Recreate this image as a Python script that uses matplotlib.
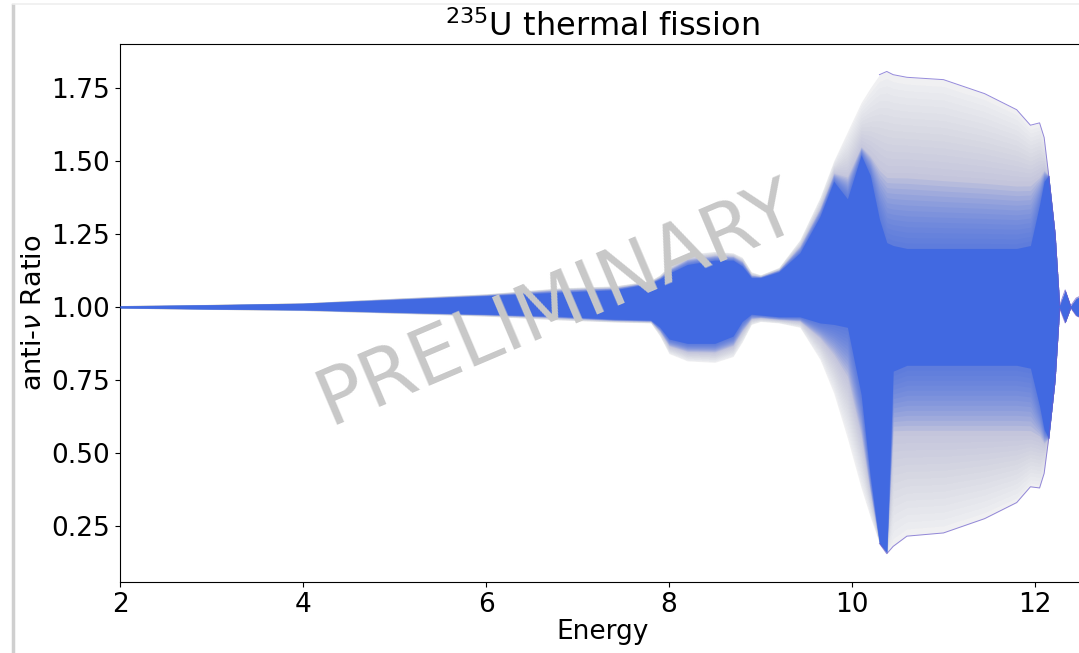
import numpy as np
import matplotlib
matplotlib.use("Agg")
import matplotlib.pyplot as plt
from matplotlib.lines import Line2D

# ---- data (energy grid + envelopes of the ratio band) ----
energy = [2.0, 3.0, 4.0, 5.0, 6.0, 6.8, 7.4, 7.8, 7.9, 8.0, 8.2, 8.5, 8.7, 8.8, 8.9,
          9.0, 9.2, 9.43, 9.65, 9.8, 9.95, 10.1, 10.2, 10.3, 10.38, 10.45, 10.6,
          11.0, 11.45, 11.8, 11.95, 12.05, 12.1, 12.15, 12.22, 12.27, 12.33, 12.39,
          12.45, 12.55]

outer_hi = [1.005, 1.009, 1.014, 1.030, 1.045, 1.065, 1.072, 1.090, 1.110, 1.140,
            1.180, 1.190, 1.185, 1.170, 1.120, 1.110, 1.135, 1.230, 1.375, 1.500,
            1.600, 1.700, 1.750, 1.795, 1.806, 1.795, 1.786, 1.778, 1.730, 1.675,
            1.622, 1.630, 1.580, 1.450, 1.250, 1.005, 1.058, 1.003, 1.030, 1.045]
outer_lo = [0.995, 0.991, 0.987, 0.978, 0.968, 0.955, 0.948, 0.945, 0.900, 0.840,
            0.815, 0.810, 0.830, 0.880, 0.940, 0.950, 0.945, 0.930, 0.820, 0.705,
            0.550, 0.380, 0.280, 0.190, 0.155, 0.180, 0.215, 0.226, 0.275, 0.330,
            0.384, 0.380, 0.430, 0.550, 0.750, 0.995, 0.945, 0.997, 0.970, 0.955]
mid_hi = [1.004, 1.008, 1.013, 1.028, 1.042, 1.060, 1.066, 1.086, 1.103, 1.130,
          1.165, 1.178, 1.175, 1.158, 1.110, 1.105, 1.128, 1.210, 1.340, 1.460,
          1.450, 1.550, 1.520, 1.480, 1.460, 1.460, 1.460, 1.450, 1.440, 1.430,
          1.430, 1.450, 1.470, 1.450, 1.250, 1.005, 1.057, 1.003, 1.030, 1.044]
mid_lo = [0.996, 0.992, 0.989, 0.980, 0.972, 0.962, 0.953, 0.950, 0.915, 0.865,
          0.845, 0.843, 0.865, 0.915, 0.958, 0.962, 0.956, 0.950, 0.890, 0.830,
          0.750, 0.550, 0.360, 0.190, 0.157, 0.560, 0.560, 0.560, 0.560, 0.560,
          0.560, 0.550, 0.530, 0.550, 0.750, 0.995, 0.946, 0.997, 0.971, 0.956]
core_hi = [1.003, 1.007, 1.012, 1.025, 1.038, 1.050, 1.058, 1.080, 1.095, 1.115,
           1.145, 1.160, 1.160, 1.140, 1.100, 1.100, 1.120, 1.185, 1.310, 1.430,
           1.370, 1.520, 1.450, 1.300, 1.220, 1.210, 1.200, 1.200, 1.200, 1.200,
           1.210, 1.350, 1.430, 1.450, 1.250, 1.005, 1.055, 1.003, 1.028, 1.042]
core_lo = [0.997, 0.993, 0.990, 0.982, 0.975, 0.968, 0.958, 0.955, 0.930, 0.890,
           0.875, 0.875, 0.900, 0.950, 0.975, 0.972, 0.966, 0.966, 0.945, 0.940,
           0.930, 0.700, 0.420, 0.190, 0.160, 0.780, 0.800, 0.800, 0.800, 0.800,
           0.790, 0.660, 0.580, 0.550, 0.750, 0.995, 0.947, 0.997, 0.972, 0.958]

xticks = [2, 4, 6, 8, 10, 12]
yticks = [0.25, 0.50, 0.75, 1.00, 1.25, 1.50, 1.75]
title = "$^{235}$U thermal fission"
xlabel = "Energy"
ylabel = r"anti-$\nu$ Ratio"
watermark = "PRELIMINARY"

# ---- figure ----
W, H = 1079, 653
fig = plt.figure(figsize=(W / 100, H / 100), dpi=100)
xmin, xmax = 2.0, 12.55
ymin, ymax = 0.058, 1.90
px_per_unit = 91.5
left = 120 / W
width = (xmax - xmin) * px_per_unit / W
bottom = (H - 582) / H
height = (582 - 44) / H
ax = fig.add_axes([left, bottom, width, height])

E = np.array(energy)
ohi, olo = np.array(outer_hi), np.array(outer_lo)
mhi, mlo = np.array(mid_hi), np.array(mid_lo)
chi, clo = np.array(core_hi), np.array(core_lo)

blue = "royalblue"
# outer grey envelope
ax.fill_between(E, olo, ohi, color="#f0f0f2", lw=0, zorder=1)
# gradient outer -> mid (faint lines region, grey turning bluish)
N1 = 14
for k in range(1, N1 + 1):
    t = k / N1
    ax.fill_between(E, olo + (mlo - olo) * t, ohi + (mhi - ohi) * t,
                    color="#9a9ab8", alpha=0.012, lw=0, zorder=2)
    ax.fill_between(E, olo + (mlo - olo) * t, ohi + (mhi - ohi) * t,
                    color=blue, alpha=0.010, lw=0, zorder=2)
# gradient mid -> core
N2 = 14
for k in range(1, N2 + 1):
    t = k / N2
    ax.fill_between(E, mlo + (clo - mlo) * t, mhi + (chi - mhi) * t,
                    color=blue, alpha=0.10, lw=0, zorder=3)
# dense core
ax.fill_between(E, clo, chi, color=blue, lw=0, zorder=4)
# extreme outline (visible on the wide part)
m = E >= 10.3
ax.plot(E[m], ohi[m], color="slateblue", lw=0.7, alpha=0.7, zorder=5)
ax.plot(E[m], olo[m], color="slateblue", lw=0.7, alpha=0.7, zorder=5)

ax.set_xlim(xmin, xmax)
ax.set_ylim(ymin, ymax)
ax.set_xticks(xticks)
ax.set_xticklabels([str(v) for v in xticks])
ax.set_yticks(yticks)
ax.set_yticklabels([f"{v:.2f}" for v in yticks])
ax.tick_params(labelsize=19)
ax.set_title(title, fontsize=23)
ax.set_xlabel(xlabel, fontsize=19, labelpad=1)
ax.set_ylabel(ylabel, fontsize=19.5, labelpad=3)

ax.text(6.78, 1.007, watermark, fontsize=56, color="#c8c8c8", rotation=23,
        ha="center", va="center", zorder=10)

# screenshot frame edges
fig.add_artist(Line2D([13 / W, 13 / W], [0, 1 - 5 / H], color="#cfcfcf", lw=2.5))
fig.add_artist(Line2D([13 / W, 1], [1 - 4 / H, 1 - 4 / H], color="#efefef", lw=1.2))

fig.savefig("out.png", dpi=100)
